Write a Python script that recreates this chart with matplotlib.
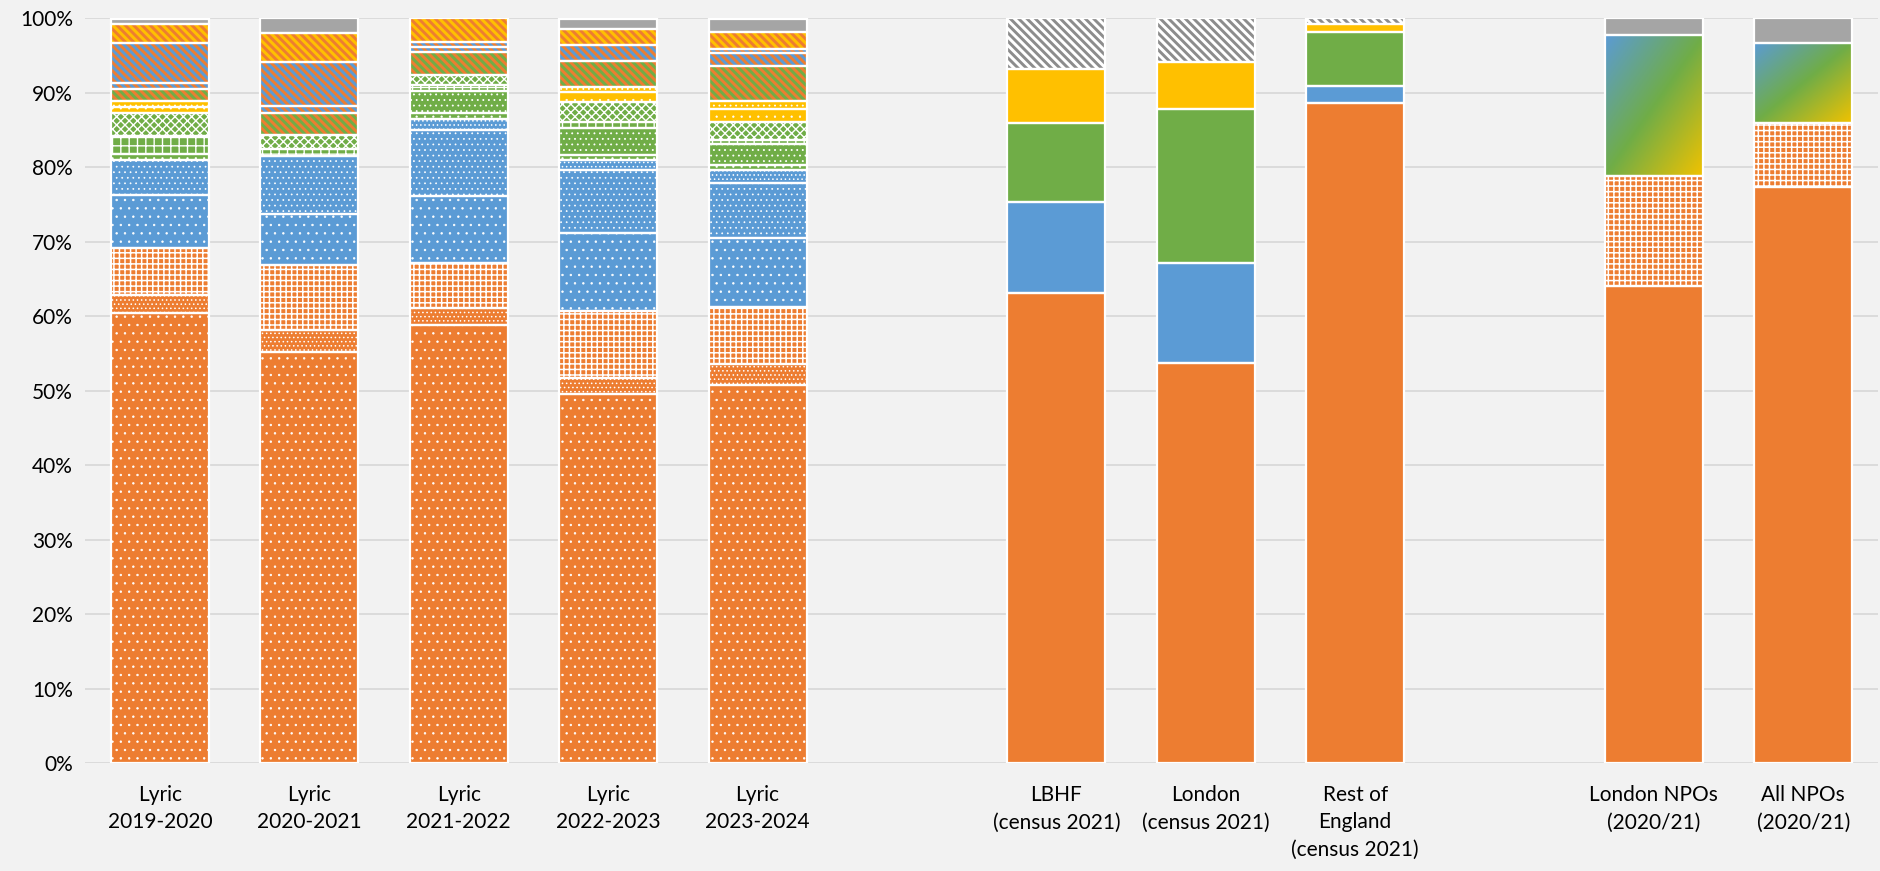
import numpy as np
import matplotlib
matplotlib.use("Agg")
import matplotlib.pyplot as plt
from matplotlib import font_manager
from matplotlib.colors import LinearSegmentedColormap


def pick_font(candidates):
    installed = {f.name for f in font_manager.fontManager.ttflist}
    for name in candidates:
        if name in installed:
            return name
    return "DejaVu Sans"


plt.rcParams["font.family"] = [pick_font(["Lato", "Liberation Sans"]), "DejaVu Sans"]

ORANGE = "#ED7D31"
BLUE = "#5B9BD5"
GREEN = "#70AD47"
YELLOW = "#FFC000"
GREY = "#A5A5A5"
BG = "#F2F2F2"

# ---------------------------------------------------------------- data
lyric_labels = ["Lyric\n2019-2020", "Lyric\n2020-2021", "Lyric\n2021-2022",
                "Lyric\n2022-2023", "Lyric\n2023-2024"]
white_1 = [60.5, 55.25, 58.85, 49.55, 50.8]
white_2 = [2.4, 2.95, 2.25, 2.15, 2.85]
white_3 = [6.3, 8.75, 6.0, 9.05, 7.55]
black_1 = [7.15, 6.8, 9.05, 10.5, 9.25]
black_2 = [4.65, 7.75, 8.9, 8.35, 7.5]
black_3 = [0.0, 0.0, 1.45, 1.45, 1.75]
asian_1 = [0.8, 0.0, 0.75, 0.68, 0.6]
asian_2 = [0.0, 0.0, 3.0, 3.5, 2.8]
asian_3 = [2.4, 1.0, 0.8, 0.82, 0.6]
asian_4 = [3.13, 1.9, 1.4, 2.73, 2.35]
mixed_1 = [0.77, 0.0, 0.0, 1.35, 1.75]
mixed_2 = [0.8, 0.0, 0.0, 0.72, 1.15]
mixed_3 = [1.6, 2.93, 3.0, 3.5, 4.63]
mixed_4 = [0.8, 0.92, 0.75, 2.08, 1.72]
mixed_5 = [5.43, 5.9, 0.7, 0.0, 0.55]
mixed_6 = [2.47, 3.85, 3.1, 2.1, 2.35]
other = [0.8, 2.0, 0.0, 1.47, 1.8]

census_labels = ["LBHF\n(census 2021)", "London\n(census 2021)",
                 "Rest of\nEngland\n(census 2021)"]
census_white = [63.1, 53.7, 88.7]
census_black = [12.2, 13.5, 2.3]
census_asian = [10.6, 20.6, 7.2]
census_mixed = [7.3, 6.3, 1.1]
census_other = [6.8, 5.9, 0.7]

npo_labels = ["London NPOs\n(2020/21)", "All NPOs\n(2020/21)"]
npo_white_british = [64.1, 77.4]
npo_white_other = [14.8, 8.5]
npo_global_majority = [18.9, 10.8]
npo_not_known = [2.2, 3.3]

y_ticks = [0, 10, 20, 30, 40, 50, 60, 70, 80, 90, 100]

# slot positions on the category axis (gaps separate the three groups)
lyric_pos = np.arange(5)
census_pos = np.arange(6, 9)
npo_pos = np.arange(10, 12)
BAR_W = 0.656

# narrow diagonal stripes running down to the right
STRIPES = chr(92) * 4

# fill styles: (face, hatch, hatch colour, hatch line width)
def SOLID(c):
    return (c, None, "none", 1.0)


lyric_layers = [
    (white_1, (ORANGE, "..", "white", 0.5)),
    (white_2, (ORANGE, "....", "white", 0.6)),
    (white_3, (ORANGE, "+++", "white", 1.1)),
    (black_1, (BLUE, "..", "white", 0.5)),
    (black_2, (BLUE, "...", "white", 0.5)),
    (black_3, (BLUE, "....", "white", 0.6)),
    (asian_1, (GREEN, "..", "white", 0.4)),
    (asian_2, (GREEN, "...", "white", 0.6)),
    (asian_3, (GREEN, "++", "white", 1.0)),
    (asian_4, (GREEN, "xxxx", "white", 1.0)),
    (mixed_1, (YELLOW, "..", "white", 0.4)),
    (mixed_2, (YELLOW, "...", "white", 0.6)),
    (mixed_3, (GREEN, STRIPES, ORANGE, 2.1)),
    (mixed_4, (BLUE, STRIPES, ORANGE, 2.1)),
    (mixed_5, (BLUE, STRIPES, ORANGE, 2.1)),
    (mixed_6, (YELLOW, STRIPES, ORANGE, 2.1)),
    (other, SOLID(GREY)),
]

census_layers = [
    (census_white, SOLID(ORANGE)),
    (census_black, SOLID(BLUE)),
    (census_asian, SOLID(GREEN)),
    (census_mixed, SOLID(YELLOW)),
    (census_other, ("white", STRIPES, "#8C8C8C", 2.1)),
]

npo_layers = [
    (npo_white_british, SOLID(ORANGE)),
    (npo_white_other, (ORANGE, "+++", "white", 1.1)),
    (npo_global_majority, "gradient"),
    (npo_not_known, SOLID(GREY)),
]

gradient_cmap = LinearSegmentedColormap.from_list(
    "bgy", ["#5B9BD5", "#70AD47", "#F2C200"])


def fill_gradient(ax, patch):
    x0, y0 = patch.get_x(), patch.get_y()
    w, h = patch.get_width(), patch.get_height()
    n = 200
    u = np.linspace(0, 1, n)
    xx, yy = np.meshgrid(u, u)
    t = 0.5 * xx + 0.5 * (1 - yy)
    img = ax.imshow(t, cmap=gradient_cmap, origin="lower", aspect="auto",
                    extent=[x0, x0 + w, y0, y0 + h], zorder=2,
                    interpolation="bilinear")
    img.set_clip_path(patch)


def draw_stack(ax, xs, layers):
    xs = np.asarray(xs, float)
    bottoms = np.zeros(len(xs))
    for vals, style in layers:
        vals = np.asarray(vals, float)
        keep = vals > 0
        if style == "gradient":
            holders = ax.bar(xs[keep], vals[keep], BAR_W, bottom=bottoms[keep],
                             facecolor="none", linewidth=0, zorder=2)
            for p in holders:
                fill_gradient(ax, p)
        else:
            face, hatch, hcol, hlw = style
            with plt.rc_context({"hatch.linewidth": hlw}):
                fills = ax.bar(xs[keep], vals[keep], BAR_W, bottom=bottoms[keep],
                               color=face, hatch=hatch, edgecolor=hcol,
                               linewidth=0, zorder=2)
            for p in fills:
                if hasattr(p, "set_hatch_linewidth"):
                    p.set_hatch_linewidth(hlw)
        ax.bar(xs[keep], vals[keep], BAR_W, bottom=bottoms[keep], fill=False,
               edgecolor="white", linewidth=1.6, zorder=3)
        bottoms += vals


W, H = 1881, 871
fig = plt.figure(figsize=(W / 100, H / 100), dpi=100, facecolor=BG)
ax = fig.add_axes([85.3 / W, (H - 763) / H, (1878 - 85.3) / W, (763 - 18.5) / H])
ax.set_facecolor(BG)

draw_stack(ax, lyric_pos, lyric_layers)
draw_stack(ax, census_pos, census_layers)
draw_stack(ax, npo_pos, npo_layers)

ax.set_xlim(-0.5, 11.5)
ax.set_ylim(0, 100)
ax.set_yticks(y_ticks)
ax.set_yticklabels([f"{v}%" for v in y_ticks])
ax.set_xticks(list(lyric_pos) + list(census_pos) + list(npo_pos))
ax.set_xticklabels(lyric_labels + census_labels + npo_labels,
                   linespacing=1.45, va="top")
ax.tick_params(axis="both", length=0, labelsize=15, colors="black")
ax.tick_params(axis="x", pad=16)
ax.tick_params(axis="y", pad=9)
ax.set_axisbelow(True)
ax.grid(axis="y", color="#D9D9D9", linewidth=1.3)
for s in ax.spines.values():
    s.set_visible(False)

fig.savefig("out.png", dpi=100, facecolor=BG)
